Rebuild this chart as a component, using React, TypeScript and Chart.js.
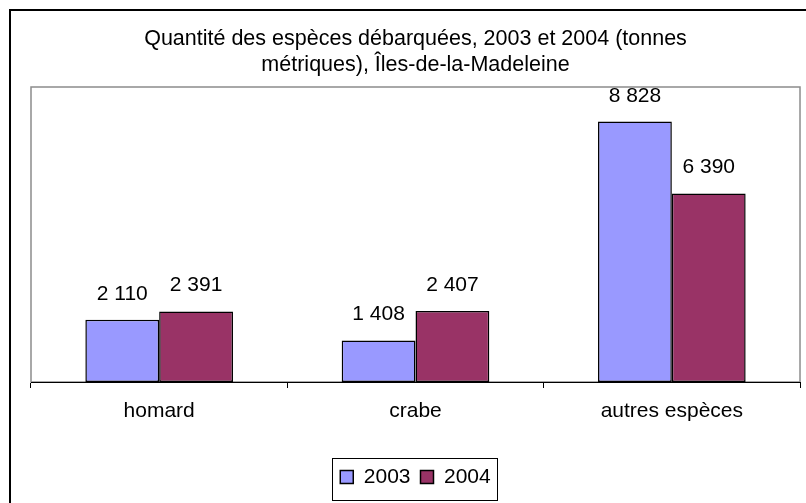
import React, { useEffect, useRef } from 'react';
import { Chart, registerables } from 'chart.js';

Chart.register(...registerables);

// ---- Data ----
const categories = ['homard', 'crabe', 'autres espèces'];
const seriesLabels = ['2003', '2004'];
const values2003 = [2110, 1408, 8828];
const values2004 = [2391, 2407, 6390];
const titleLines = [
  'Quantité des espèces débarquées, 2003 et 2004 (tonnes',
  'métriques), Îles-de-la-Madeleine',
];
const yMin = 0;
const yMax = 10000;

// ---- Styles ----
const FONT = '"Liberation Sans", Arial, Helvetica, sans-serif';
const COLORS = ['#9999FF', '#993366'];

const fmt = (v: number) => String(v).replace(/\B(?=(\d{3})+(?!\d))/g, ' ');

const framePlugin = {
  id: 'frame',
  beforeDraw(chart: any) {
    const { ctx, chartArea: a } = chart;
    ctx.save();
    ctx.fillStyle = '#ffffff';
    ctx.fillRect(0, 0, chart.width, chart.height);
    // outer chart border
    ctx.strokeStyle = '#000000';
    ctx.lineWidth = 2;
    ctx.strokeRect(10, 10, chart.width + 40, chart.height + 40);
    // plot area border
    ctx.strokeStyle = '#8c8c8c';
    ctx.lineWidth = 1.5;
    ctx.strokeRect(a.left, a.top, a.right - a.left, a.bottom - a.top);
    ctx.restore();
  },
  afterDatasetsDraw(chart: any) {
    const { ctx } = chart;
    ctx.save();
    ctx.font = `21px ${FONT}`;
    ctx.fillStyle = '#000000';
    ctx.textAlign = 'center';
    ctx.textBaseline = 'alphabetic';
    chart.data.datasets.forEach((ds: any, i: number) => {
      const meta = chart.getDatasetMeta(i);
      meta.data.forEach((el: any, j: number) => {
        ctx.fillText(fmt(ds.data[j]), el.x, el.y - 20);
      });
    });
    ctx.restore();
  },
  afterDraw(chart: any) {
    const boxes = chart.legend && chart.legend.legendHitBoxes;
    if (!boxes || !boxes.length) return;
    const f = boxes[0];
    const l = boxes[boxes.length - 1];
    const { ctx } = chart;
    ctx.save();
    ctx.strokeStyle = '#000000';
    ctx.lineWidth = 1;
    const x0 = Math.round(f.left - 8) + 0.5;
    const x1 = Math.round(l.left + l.width + 6) + 0.5;
    const y0 = Math.round(f.top - 8.5) + 0.5;
    const y1 = Math.round(f.top + f.height + 12.5) + 0.5;
    ctx.strokeRect(x0, y0, x1 - x0, y1 - y0);
    ctx.restore();
  },
};

export default function App() {
  const ref = useRef<HTMLCanvasElement | null>(null);

  useEffect(() => {
    if (!ref.current) return;
    Chart.defaults.font.family = FONT;
    Chart.defaults.color = '#000000';
    const chart = new Chart(ref.current, {
      type: 'bar',
      data: {
        labels: categories,
        datasets: [
          {
            label: seriesLabels[0],
            data: values2003,
            backgroundColor: COLORS[0],
            borderColor: '#000000',
            borderWidth: 1.5,
            borderSkipped: false,
            inflateAmount: 0,
          },
          {
            label: seriesLabels[1],
            data: values2004,
            backgroundColor: COLORS[1],
            borderColor: '#000000',
            borderWidth: 1.5,
            borderSkipped: false,
            inflateAmount: 0,
          },
        ],
      },
      options: {
        responsive: false,
        animation: false,
        events: [],
        layout: { padding: { top: 10, left: 31, right: 6, bottom: 5.5 } },
        datasets: { bar: { categoryPercentage: 0.576, barPercentage: 1 } },
        scales: {
          x: {
            grid: {
              offset: true,
              drawOnChartArea: false,
              drawTicks: true,
              tickLength: 6,
              color: '#000000',
            },
            border: { display: true, color: '#000000', width: 1 },
            ticks: { color: '#000000', font: { size: 21, family: FONT }, padding: 11, maxRotation: 0 },
            afterFit: (scale: any) => {
              scale.height = 74.5;
            },
          },
          y: {
            display: false,
            min: yMin,
            max: yMax,
          },
        },
        plugins: {
          title: {
            display: true,
            text: titleLines,
            color: '#000000',
            font: { size: 21.5, weight: 'normal', family: FONT, lineHeight: 26 / 21.5 },
            padding: { top: 16, bottom: 9 },
          },
          legend: {
            display: true,
            position: 'bottom',
            labels: {
              boxWidth: 13,
              boxHeight: 13,
              padding: 10,
              color: '#000000',
              font: { size: 21, family: FONT },
            },
          },
          tooltip: { enabled: false },
        },
      } as any,
      plugins: [framePlugin],
    });
    return () => chart.destroy();
  }, []);

  return (
    <div style={{ position: 'fixed', left: 0, top: 0, width: 806, height: 503, background: '#fff' }}>
      <canvas ref={ref} width={806} height={503} style={{ display: 'block', width: 806, height: 503 }} />
    </div>
  );
}
